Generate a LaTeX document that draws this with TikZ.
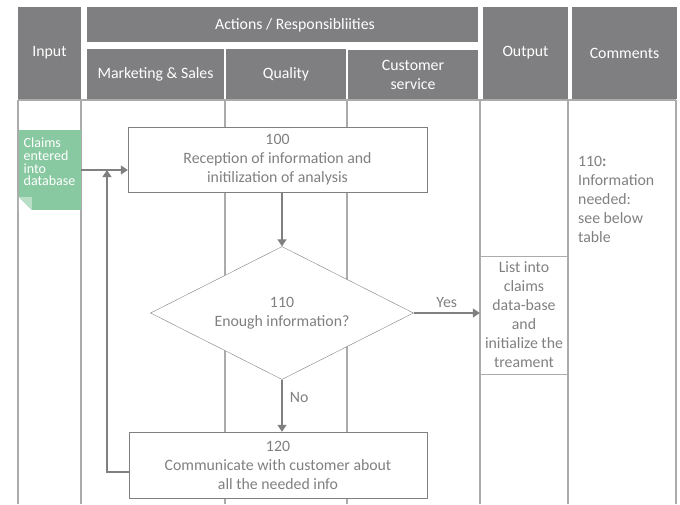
\documentclass[tikz,border=0pt]{standalone}
\usepackage{fontspec}
\setmainfont{Carlito}
\usetikzlibrary{shapes.geometric,arrows.meta}
\definecolor{headgray}{HTML}{7F7F81}
\definecolor{lanegray}{HTML}{ABABAB}
\definecolor{textgray}{HTML}{808080}
\definecolor{claimgreen}{HTML}{88C9A1}
\definecolor{foldgreen}{HTML}{B9DFC7}
\begin{document}
\begin{tikzpicture}
[x=1pt,y=-1pt,
  headdecorate/.style={shape=rectangle,fill=headgray,text=white,inner sep=0pt,
    align=center,font=\fontsize{15.8}{19}\selectfont},%
  boxdecorate/.style={shape=rectangle,draw=textgray,fill=white,text=textgray,
    inner sep=0pt,align=center,font=\fontsize{15.8}{19}\selectfont},%
  linedecorate/.style={draw=textgray,line width=1.2pt,-{Triangle[length=7pt,width=9pt]}},%
  lanedecorate/.style={draw=lanegray,line width=1.2pt},%
  labeldecorate/.style={text=textgray,font=\fontsize{15.8}{19}\selectfont}]
\useasboundingbox (0,0) rectangle (680,504);
%% header
\foreach \nodename/\x/\y/\w/\h/\caption in {input/49.5/53/63/92/Input,
  actions/282.5/24.5/391/35/{},
  marketing/155.5/74/137/50/Marketing \& Sales,
  quality/286/74/120/50/Quality,
  customer/413/75/130/50/{Customer\\service},
  output/525.5/53/85/92/Output,
  comments/624.5/53/105/92/Comments} {
  \node (\nodename) at (\x,\y) [headdecorate,minimum width=\w,minimum height=\h] {\caption};
}
\node (actionstext) at (295,25) [headdecorate,fill=none] {Actions / Responsibliities};
%% lanes
\draw[lanedecorate] (18,100) -- (676,100);
\foreach \x in {18,81,225,347,480,568,676} {
  \draw[lanedecorate] (\x,100) -- (\x,504);
}
%% input document
\node (claims) at (50,170) [shape=rectangle,fill=claimgreen,inner sep=0pt,
  minimum width=62,minimum height=80] {};
\fill[white] (claims.south west) -- ++(13,0) -- ++(-13,-13) -- cycle;
\fill[foldgreen] ([yshift=13pt]claims.south west) -- ++(13,0) -- ++(0,13) -- cycle;
\node (claimstext) at (23.5,138) [anchor=north west,inner sep=0pt,align=left,text=white,
  font=\fontsize{14}{12.6}\selectfont] {Claims\\entered\\into\\database};
%% process steps
\node (box100) at (277.5,159.5) [boxdecorate,minimum width=299,minimum height=65]
  {100\\Reception of information and\\initilization of analysis};
\node (decision) at (282,313) [boxdecorate,shape=diamond,aspect=2,
  minimum width=263,minimum height=133] {110\\Enough information?};
\node (box120) at (278,465) [boxdecorate,minimum width=298,minimum height=66]
  {120\\Communicate with customer about\\all the needed info};
\node (listbox) at (524,315) [boxdecorate,draw=lanegray,fill=none,minimum width=88,minimum height=118]
  {List into\\claims\\data-base\\and\\initialize the\\treament};
\node (note) at (578,156) [labeldecorate,anchor=north west,inner sep=0pt,align=left]
  {110\textbf{:}\\Information\\needed:\\see below\\table};
%% connectors
\coordinate (loopcorner) at (107,472);
\draw[linedecorate] (claims.east) -- (claims.east -| box100.west);
\draw[linedecorate] (box100.south -| decision.north) -- (decision.north);
\draw[linedecorate] (decision.east) -- (decision.east -| listbox.west)
  node[labeldecorate,midway,above=1pt] {Yes};
\draw[linedecorate] (decision.south) -- (decision.south |- box120.north)
  node[labeldecorate,pos=0.35,right=4pt] {No};
\draw[linedecorate] (box120.west |- loopcorner) -- (loopcorner) -- (loopcorner |- claims.east);
\end{tikzpicture}
\end{document}
